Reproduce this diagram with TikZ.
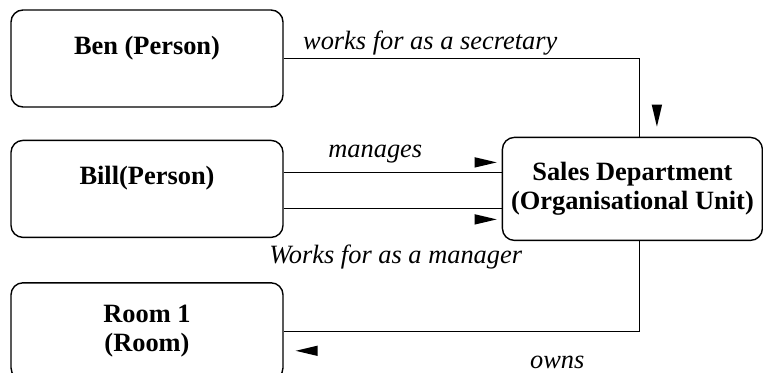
\documentclass[tikz,border=0pt]{standalone}
\usepackage{fontspec}
\setmainfont{Liberation Serif}
\usetikzlibrary{positioning}

\begin{document}
\begin{tikzpicture}[
    node distance=16pt and 109pt,
    box/.style={draw, line width=0.7pt, rectangle, rounded corners=6pt, minimum width=136pt, minimum height=48.5pt, align=center, inner sep=2pt, font=\fontsize{13.2pt}{14.5pt}\selectfont\bfseries},
    person/.style={box, text height=9pt, text depth=13pt},
    unit/.style={box, minimum width=130pt, minimum height=51.5pt},
    link/.style={line width=0.7pt},
    lbl/.style={inner sep=1.5pt, font=\fontsize{13.2pt}{14.5pt}\selectfont\itshape},
    pics/reading/.style={code={\fill (0,0) -- (-11pt,2.6pt) -- (-11pt,-2.6pt) -- cycle;}}
]
\useasboundingbox (0,0) rectangle (381.5pt,-186.5pt);

% Entities
\node[person] (ben) at (73.5pt,-29.25pt) {Ben (Person)};
\node[person, below=of ben] (bill) {Bill(Person)};
\node[box, below=22pt of bill] (room) {Room 1\\(Room)};
\node[unit, right=of bill] (sales) {Sales Department\\(Organisational Unit)};

% Line end points
\coordinate (top) at ([xshift=3.5pt]sales.north);
\coordinate (bottom) at ([xshift=3.5pt]sales.south);
\coordinate (mngA) at ([yshift=8.25pt]bill.east);
\coordinate (mngB) at (mngA -| sales.west);
\coordinate (wrkA) at ([yshift=-9.75pt]bill.east);
\coordinate (wrkB) at (wrkA -| sales.west);

% Relations
\draw[link] (ben.east) -| node[lbl, above, pos=0.206] {works for as a secretary} (top);
\draw[link] (mngA) -- node[lbl, above=3pt, pos=0.42] {manages} (mngB);
\draw[link] (wrkA) -- node[lbl, below=16.5pt, pos=0.514] {Works for as a manager} (wrkB);
\draw[link] (bottom) |- node[lbl, below=10.4pt, pos=0.6155] {owns} (room.east);

% Reading directions
\pic[rotate=-90] at ([shift={(8.75pt,5pt)}]top) {reading};
\pic at ([shift={(-2.5pt,5pt)}]mngB) {reading};
\pic at ([shift={(-2.5pt,-5.5pt)}]wrkB) {reading};
\pic[rotate=180] at ([shift={(6pt,-9.75pt)}]room.east) {reading};
\end{tikzpicture}
\end{document}
